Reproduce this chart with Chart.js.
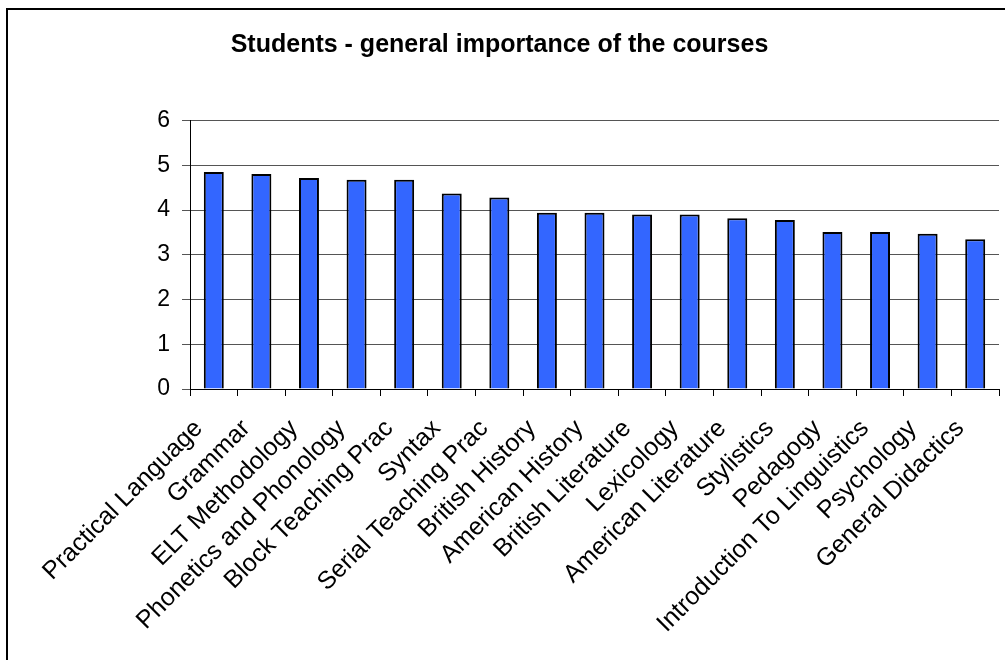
<!DOCTYPE html>
<html>
<head>
<meta charset="utf-8">
<script src="https://cdn.jsdelivr.net/npm/chart.js@4.4.1/dist/chart.umd.min.js"></script>
<style>
  html, body { margin: 0; padding: 0; background: #fff; }
  #wrap { width: 1005px; height: 660px; position: relative; }
</style>
</head>
<body>
<div id="wrap"><canvas id="c" width="1005" height="660"></canvas></div>
<script>
const titleText = 'Students - general importance of the courses';
const categories = [
  'Practical Language', 'Grammar', 'ELT Methodology', 'Phonetics and Phonology',
  'Block Teaching Prac', 'Syntax', 'Serial Teaching Prac', 'British History',
  'American History', 'British Literature', 'Lexicology', 'American Literature',
  'Stylistics', 'Pedagogy', 'Introduction To Linguistics', 'Psychology', 'General Didactics'
];
const importance = [4.85, 4.81, 4.72, 4.68, 4.68, 4.37, 4.28, 3.94, 3.94, 3.90, 3.90, 3.82, 3.78, 3.51, 3.51, 3.47, 3.35];
const yTicks = [0, 1, 2, 3, 4, 5, 6];

const framePlugin = {
  id: 'frame',
  beforeDraw(chart) {
    const ctx = chart.ctx;
    ctx.save();
    ctx.fillStyle = '#fff';
    ctx.fillRect(0, 0, chart.width, chart.height);
    ctx.strokeStyle = '#000';
    ctx.lineWidth = 2;
    ctx.beginPath();
    ctx.moveTo(7, 700);
    ctx.lineTo(7, 9);
    ctx.lineTo(1010, 9);
    ctx.stroke();
    ctx.restore();
  }
};

new Chart(document.getElementById('c'), {
  type: 'bar',
  data: {
    labels: categories,
    datasets: [{
      data: importance,
      backgroundColor: '#3366FF',
      borderColor: '#000',
      borderWidth: 2,
      categoryPercentage: 1,
      barPercentage: 0.42
    }]
  },
  options: {
    responsive: false,
    animation: false,
    layout: { padding: { left: 0, right: 6, top: 0, bottom: 0 } },
    plugins: {
      legend: { display: false },
      tooltip: { enabled: false },
      title: {
        display: true,
        text: titleText,
        color: '#000',
        font: { family: 'Liberation Sans, Arial', size: 25, weight: 'bold', lineHeight: 1.2 },
        padding: { top: 30, bottom: 60.7 }
      }
    },
    scales: {
      x: {
        offset: true,
        grid: { display: true, drawOnChartArea: false, drawTicks: true, tickLength: 7, color: '#000', offset: true },
        border: { display: true, color: '#000', width: 1 },
        ticks: {
          autoSkip: false, maxRotation: 45, minRotation: 45, padding: 18, labelOffset: -15,
          color: '#000', font: { family: 'Liberation Sans, Arial', size: 25 }
        },
        afterFit(scale) { scale.height = 271; scale.paddingLeft = 0; scale.paddingRight = 0; }
      },
      y: {
        min: 0, max: 6,
        afterBuildTicks(scale) { scale.ticks = yTicks.map(v => ({ value: v })); },
        grid: { color: '#555', lineWidth: 1, drawTicks: true, tickLength: 8 },
        border: { display: true, color: '#000', width: 1 },
        ticks: { padding: 12, color: '#000', font: { family: 'Liberation Sans, Arial', size: 23 } },
        afterFit(scale) { scale.width = 190; }
      }
    }
  },
  plugins: [framePlugin]
});
</script>
</body>
</html>
